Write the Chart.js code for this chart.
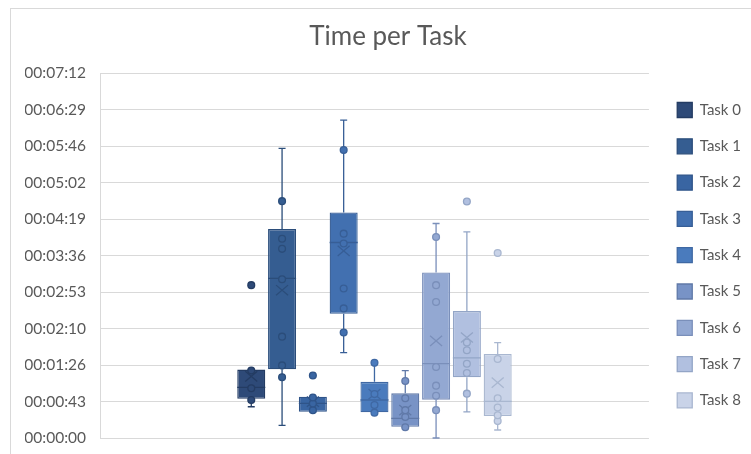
<!DOCTYPE html>
<html><head><meta charset="utf-8">
<script src="https://cdn.jsdelivr.net/npm/chart.js@4.4.1/dist/chart.umd.min.js"></script>
<style>html,body{margin:0;padding:0;background:#fff;} #wrap{width:751px;height:454px;}</style>
</head><body><div id="wrap"><canvas id="c" width="751" height="454"></canvas></div>
<script>
// ---- data (seconds) ----
const taskNames  = ['Task 0','Task 1','Task 2','Task 3','Task 4','Task 5','Task 6','Task 7','Task 8'];
const minVals    = [37, 15, 31, 101, 30, 12.7, 0, 31, 9.5];
const q1Vals     = [46.5, 81.5, 31, 147, 30.4, 13.4, 45.4, 72, 26];
const medianVals = [60, 189, 41, 231.5, 45, 23.3, 88, 95, 43.4];
const q3Vals     = [81, 247.4, 48.9, 267, 66.5, 52.9, 196, 150.3, 99.4];
const maxVals    = [81, 343, 48.9, 376.4, 89, 79.7, 254, 244, 113];
const meanVals   = [73, 175, 43, 221.5, 52, 33, 115, 119, 65.5];
const pointVals  = [
  [45, 59, 80, 181],
  [72, 86, 120, 188, 224, 236, 280.5],
  [33, 41, 48, 74],
  [125, 153.5, 177, 230.4, 242, 341],
  [30, 39, 52, 89],
  [12.7, 25, 33, 47, 67.5],
  [33, 50, 62, 84, 161, 181, 238],
  [52.5, 77, 88, 104, 113, 280],
  [20, 27, 36, 47, 93.5, 219]
];
const tickLabels = ['00:00:00','00:00:43','00:01:26','00:02:10','00:02:53','00:03:36','00:04:19','00:05:02','00:05:46','00:06:29','00:07:12'];

const fillColors = ['#2e4a78','#355d91','#3965a2','#4270b0','#4a7bbd','#7893c6','#93a8d2','#b1c0e0','#c9d3e8'];
const lineColors = ['#243c63','#2b4d7a','#2f5489','#375e96','#3f68a3','#6079a8','#7a8fba','#93a5c6','#a9b7d0'];

const bgPlugin = {
  id:'bg',
  beforeDraw(chart){
    const ctx = chart.ctx;
    ctx.save();
    ctx.fillStyle = '#fff';
    ctx.fillRect(0,0,chart.width,chart.height);
    ctx.strokeStyle = '#d9d9d9';
    ctx.lineWidth = 1;
    ctx.strokeRect(10.5, 8.5, 900, 600);
    ctx.restore();
  }
};

const boxPlugin = {
  id:'boxes',
  afterDatasetsDraw(chart){
    const ctx = chart.ctx, ys = chart.scales.y;
    const Y = v => ys.getPixelForValue(v);
    chart.data.datasets.forEach((ds,i)=>{
      const bar = chart.getDatasetMeta(i).data[0];
      const x = bar.x, w = bar.width;
      ctx.save();
      ctx.strokeStyle = lineColors[i];
      ctx.lineWidth = 1.3;
      const cap = 3.5;
      ctx.beginPath();
      ctx.moveTo(x, Y(q3Vals[i])); ctx.lineTo(x, Y(maxVals[i]));
      ctx.moveTo(x, Y(q1Vals[i])); ctx.lineTo(x, Y(minVals[i]));
      ctx.moveTo(x-cap, Y(maxVals[i])); ctx.lineTo(x+cap, Y(maxVals[i]));
      ctx.moveTo(x-cap, Y(minVals[i])); ctx.lineTo(x+cap, Y(minVals[i]));
      ctx.moveTo(x-w/2, Y(medianVals[i])); ctx.lineTo(x+w/2, Y(medianVals[i]));
      ctx.stroke();
      // mean marker
      const m = Y(meanVals[i]), s = 6;
      ctx.beginPath();
      ctx.moveTo(x-s, m-s*0.85); ctx.lineTo(x+s, m+s*0.85);
      ctx.moveTo(x+s, m-s*0.85); ctx.lineTo(x-s, m+s*0.85);
      ctx.stroke();
      // data points
      pointVals[i].forEach(v=>{
        ctx.beginPath();
        ctx.arc(x, Y(v), 3.4, 0, Math.PI*2);
        ctx.fillStyle = fillColors[i];
        ctx.fill();
        ctx.stroke();
      });
      ctx.restore();
    });
  }
};

Chart.defaults.font.family = 'Lato';

new Chart(document.getElementById('c').getContext('2d'), {
  type:'bar',
  data:{
    labels:[''],
    datasets: taskNames.map((n,i)=>({
      label:n,
      data:[[q1Vals[i], q3Vals[i]]],
      backgroundColor: fillColors[i],
      borderColor: lineColors[i],
      borderWidth: 1.3,
      borderSkipped: false,
      categoryPercentage: 0.505,
      barPercentage: 0.91
    }))
  },
  options:{
    responsive:false,
    animation:false,
    layout:{padding:{left:25,right:0,top:0,bottom:16}},
    plugins:{
      title:{display:true,text:'Time per Task',color:'#595959',font:{size:26,weight:'normal'},padding:{top:21,bottom:21}},
      legend:{
        position:'right', maxWidth:96,
        title:{display:true, text:'', font:{size:2}, padding:{top:35,bottom:35}},
        labels:{boxWidth:15, boxHeight:15, padding:21.3, color:'#595959', font:{size:15}}
      },
      tooltip:{enabled:false}
    },
    scales:{
      x:{display:false},
      y:{
        min:0, max:432,
        afterFit(s){ s.width = 75; },
        ticks:{stepSize:43.2, padding:0, color:'#595959', font:{size:15.5}, callback:(v,i)=>tickLabels[i]},
        grid:{color:'#d9d9d9', drawTicks:true, tickLength:14, tickColor:'rgba(0,0,0,0)'},
        border:{color:'#d9d9d9'}
      },
      yPad:{
        type:'linear', position:'right', display:true,
        afterFit(s){ s.width = 7; },
        ticks:{display:false}, grid:{display:false}, border:{display:false}
      }
    }
  },
  plugins:[bgPlugin, boxPlugin]
});
</script></body></html>
